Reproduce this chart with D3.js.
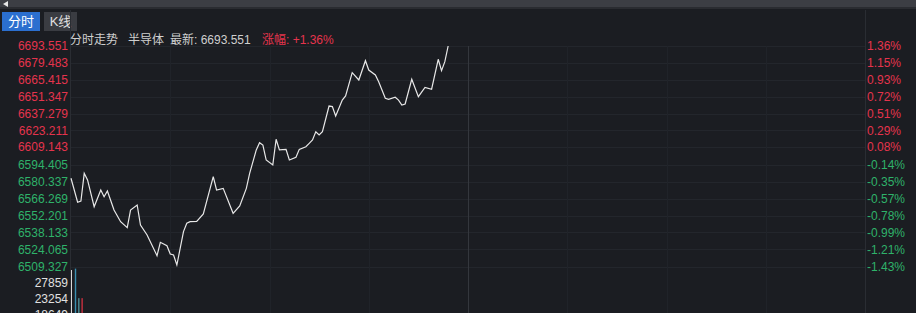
<!DOCTYPE html>
<html>
<head>
<meta charset="utf-8">
<script src="https://cdn.jsdelivr.net/npm/d3@7"></script>
<style>
	html, body { margin: 0; padding: 0; background: #1b1d22; overflow: hidden; }
	svg { display: block; font-family: "Liberation Sans", Arial, "Noto Sans CJK SC", sans-serif; }
</style>
</head>
<body>
<div id="chart"></div>
<script>
// minute index since 9:30 and index price
let minutes = [0, 2, 3, 4, 5, 7, 9, 10, 11, 13, 15, 17, 18, 20, 21, 23, 26, 27, 29, 30, 31, 32, 34, 35, 36, 38, 40, 43, 44, 46, 49, 51, 53, 54, 56, 57, 58, 59, 61, 62, 63, 65, 66, 68, 69, 71, 72, 73, 74, 75, 76, 78, 79, 80, 82, 83, 85, 87, 89, 90, 92, 93, 95, 96, 98, 99, 100, 101, 103, 105, 107, 109, 111, 112, 113, 114];
let prices = [6583.3, 6563.3, 6564.3, 6587.4, 6581.9, 6559.6, 6573.5, 6567.9, 6572.7, 6556.8, 6547.1, 6542.1, 6556.8, 6561.0, 6544.3, 6536.0, 6518.8, 6529.9, 6527.0, 6520.2, 6519.3, 6511.0, 6538.8, 6545.8, 6547.1, 6547.4, 6553.5, 6584.6, 6573.5, 6574.9, 6554.1, 6560.2, 6574.9, 6587.4, 6606.9, 6612.9, 6611.0, 6598.5, 6594.4, 6615.8, 6606.9, 6607.4, 6598.5, 6600.8, 6607.4, 6609.6, 6612.4, 6615.2, 6622.1, 6619.4, 6622.1, 6643.5, 6643.0, 6635.2, 6648.5, 6651.9, 6671.3, 6665.2, 6681.3, 6673.5, 6669.4, 6663.8, 6650.0, 6649.1, 6650.8, 6648.5, 6644.4, 6645.2, 6665.8, 6651.3, 6659.1, 6657.5, 6682.5, 6673.0, 6680.5, 6693.551];

let priceTicks = [6693.551, 6679.483, 6665.415, 6651.347, 6637.279, 6623.211, 6609.143, 6594.405, 6580.337, 6566.269, 6552.201, 6538.133, 6524.065, 6509.327];
let pctTicks = ["1.36%", "1.15%", "0.93%", "0.72%", "0.51%", "0.29%", "0.08%", "-0.14%", "-0.35%", "-0.57%", "-0.78%", "-0.99%", "-1.21%", "-1.43%"];

let volMinutes = [1, 2, 3];
let volumes = [32000, 23500, 23500];
let volColors = ["#3a8fb0", "#4d8d96", "#c8303f"];
let volTicks = [27859, 23254, 18649];

let width = 916, height = 313;
let plotLeft = 71, plotRight = 865, plotTop = 46, plotBottom = 267;
let red = "#e5344d", green = "#2fb26a";

let svg = d3.select("#chart").append("svg")
	.attr("width", width)
	.attr("height", height);

svg.append("rect").attr("width", width).attr("height", height).attr("fill", "#1b1d22");

// top bar
svg.append("rect").attr("x", 0).attr("y", 0).attr("width", width).attr("height", 7).attr("fill", "#3c3e44");
svg.append("rect").attr("x", 0).attr("y", 7).attr("width", width).attr("height", 2).attr("fill", "#2a2c31");
svg.append("path").attr("d", "M3,4 L8,1 L8,7 Z").attr("fill", "#e8e8e8");

// tabs
svg.append("rect").attr("x", 2).attr("y", 12).attr("width", 38).attr("height", 19).attr("fill", "#2b6fcf");
svg.append("text").attr("x", 21).attr("y", 26).attr("text-anchor", "middle")
	.style("font-size", "13px").style("fill", "#ffffff").text("分时");
svg.append("rect").attr("x", 44).attr("y", 12).attr("width", 33).attr("height", 19).attr("fill", "#3a3c42");
svg.append("text").attr("x", 60.5).attr("y", 26).attr("text-anchor", "middle")
	.style("font-size", "13px").style("fill", "#e0e0e0").text("K线");

let xScale = d3.scaleLinear().domain([0, 240]).range([plotLeft, plotRight]);
let yScale = d3.scaleLinear().domain([6509.327, 6693.551]).range([plotBottom, plotTop]);
let vScale = d3.scaleLinear().domain([23254, 27859]).range([299, 283]);

// grid
let grid = svg.append("g").attr("class", "grid");
grid.selectAll("line.h")
	.data(priceTicks).enter()
	.append("line")
	.attr("x1", plotLeft).attr("x2", plotRight)
	.attr("y1", d => Math.round(yScale(d)) + 0.5)
	.attr("y2", d => Math.round(yScale(d)) + 0.5)
	.attr("stroke", "#23262c");
grid.selectAll("line.v")
	.data([30, 60, 90, 150, 180, 210]).enter()
	.append("line")
	.attr("x1", d => Math.round(xScale(d)) + 0.5)
	.attr("x2", d => Math.round(xScale(d)) + 0.5)
	.attr("y1", plotTop).attr("y2", height)
	.attr("stroke", "#202329");
// midday line
grid.append("line")
	.attr("x1", Math.round(xScale(120)) + 0.5).attr("x2", Math.round(xScale(120)) + 0.5)
	.attr("y1", plotTop).attr("y2", height)
	.attr("stroke", "#34373d");
// frame
grid.append("line").attr("x1", plotLeft - 0.5).attr("x2", plotLeft - 0.5).attr("y1", 10).attr("y2", height).attr("stroke", "#2a2d33");
grid.append("line").attr("x1", plotRight + 0.5).attr("x2", plotRight + 0.5).attr("y1", 10).attr("y2", height).attr("stroke", "#2a2d33");

// left axis labels
svg.append("g").selectAll("text")
	.data(priceTicks).enter()
	.append("text")
	.attr("x", 68)
	.attr("y", d => yScale(d))
	.attr("dy", ".35em")
	.attr("text-anchor", "end")
	.style("font-size", "12px")
	.style("fill", (d, i) => i < 7 ? red : green)
	.text(d => d.toFixed(3));

// right axis labels
svg.append("g").selectAll("text")
	.data(pctTicks).enter()
	.append("text")
	.attr("x", 867)
	.attr("y", (d, i) => yScale(priceTicks[i]))
	.attr("dy", ".35em")
	.style("font-size", "12px")
	.style("fill", (d, i) => i < 7 ? red : green)
	.text(d => d);

// title
let title = svg.append("g").style("font-size", "12px");
title.append("text").attr("x", 70).attr("y", 44).style("fill", "#cfcfcf").text("分时走势");
title.append("text").attr("x", 128).attr("y", 44).style("fill", "#cfcfcf").text("半导体");
title.append("text").attr("x", 170).attr("y", 44).style("fill", "#cfcfcf").text("最新: 6693.551");
title.append("text").attr("x", 262).attr("y", 44).style("fill", red).text("涨幅: +1.36%");

// price line
let line = d3.line()
	.x((d, i) => xScale(minutes[i]))
	.y(d => yScale(d));
svg.append("path")
	.attr("d", line(prices))
	.attr("fill", "none")
	.attr("stroke", "#e8e8e8")
	.attr("stroke-width", 1.2);

// volume area
svg.append("line")
	.attr("x1", plotLeft + 0.5).attr("x2", plotLeft + 0.5)
	.attr("y1", 270).attr("y2", height)
	.attr("stroke", "#d8d8d8");
svg.append("g").selectAll("text")
	.data(volTicks).enter()
	.append("text")
	.attr("x", 68)
	.attr("y", d => vScale(d))
	.attr("dy", ".35em")
	.attr("text-anchor", "end")
	.style("font-size", "12px")
	.style("fill", "#e0e0e0")
	.text(d => d);
svg.append("g").selectAll("rect")
	.data(volumes).enter()
	.append("rect")
	.attr("x", (d, i) => xScale(volMinutes[i]) + 0.5)
	.attr("y", d => vScale(d))
	.attr("width", 1.4)
	.attr("height", d => height - vScale(d))
	.attr("fill", (d, i) => volColors[i]);
</script>
</body>
</html>
